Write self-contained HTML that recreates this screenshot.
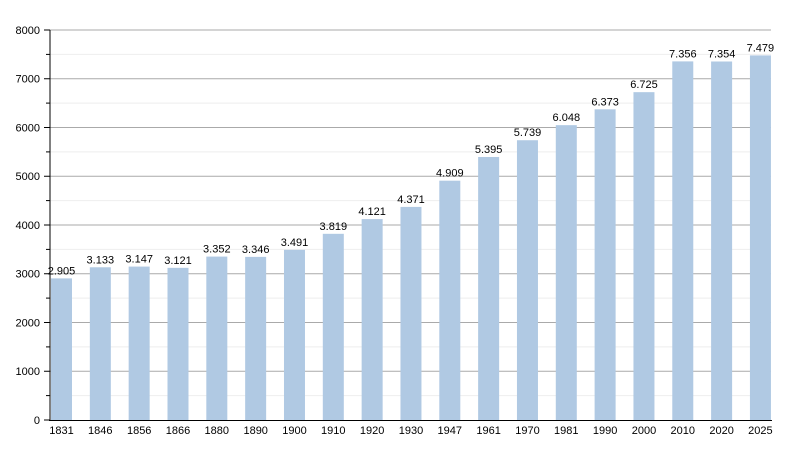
<!DOCTYPE html><html><head><style>body{margin:0;background:#fff}svg text{font-family:"Liberation Sans",sans-serif;font-size:11px;fill:#000}</style></head><body>
<svg width="800" height="450" xmlns="http://www.w3.org/2000/svg">
<g stroke="#eee">
<line x1="50" x2="771" y1="395.6" y2="395.6"/><line x1="50" x2="771" y1="346.9" y2="346.9"/><line x1="50" x2="771" y1="298.1" y2="298.1"/><line x1="50" x2="771" y1="249.4" y2="249.4"/><line x1="50" x2="771" y1="200.6" y2="200.6"/><line x1="50" x2="771" y1="151.9" y2="151.9"/><line x1="50" x2="771" y1="103.1" y2="103.1"/><line x1="50" x2="771" y1="54.4" y2="54.4"/>
</g>
<g stroke="#aaa">
<line x1="50" x2="771" y1="371.25" y2="371.25"/><line x1="50" x2="771" y1="322.5" y2="322.5"/><line x1="50" x2="771" y1="273.75" y2="273.75"/><line x1="50" x2="771" y1="225" y2="225"/><line x1="50" x2="771" y1="176.25" y2="176.25"/><line x1="50" x2="771" y1="127.5" y2="127.5"/><line x1="50" x2="771" y1="78.75" y2="78.75"/><line x1="50" x2="771" y1="30" y2="30"/>
</g>
<g stroke="#000">
<line x1="46" x2="50" y1="395.6" y2="395.6"/><line x1="46" x2="50" y1="346.9" y2="346.9"/><line x1="46" x2="50" y1="298.1" y2="298.1"/><line x1="46" x2="50" y1="249.4" y2="249.4"/><line x1="46" x2="50" y1="200.6" y2="200.6"/><line x1="46" x2="50" y1="151.9" y2="151.9"/><line x1="46" x2="50" y1="103.1" y2="103.1"/><line x1="46" x2="50" y1="54.4" y2="54.4"/>
<line x1="44" x2="50" y1="420" y2="420"/><line x1="44" x2="50" y1="371.25" y2="371.25"/><line x1="44" x2="50" y1="322.5" y2="322.5"/><line x1="44" x2="50" y1="273.75" y2="273.75"/><line x1="44" x2="50" y1="225" y2="225"/><line x1="44" x2="50" y1="176.25" y2="176.25"/><line x1="44" x2="50" y1="127.5" y2="127.5"/><line x1="44" x2="50" y1="78.75" y2="78.75"/><line x1="44" x2="50" y1="30" y2="30"/>
</g>
<g text-anchor="end">
<text x="40" y="424">0</text><text x="40" y="375">1000</text><text x="40" y="326.5">2000</text><text x="40" y="277.7">3000</text><text x="40" y="229">4000</text><text x="40" y="180.2">5000</text><text x="40" y="131.5">6000</text><text x="40" y="82.7">7000</text><text x="40" y="34">8000</text>
</g>
<g fill="#b0c9e3">
<rect x="51" y="278.38" width="21" height="141.62"/>
<rect x="89.83" y="267.27" width="21" height="152.73"/>
<rect x="128.66" y="266.58" width="21" height="153.42"/>
<rect x="167.49" y="267.85" width="21" height="152.15"/>
<rect x="206.32" y="256.59" width="21" height="163.41"/>
<rect x="245.15" y="256.88" width="21" height="163.12"/>
<rect x="283.98" y="249.81" width="21" height="170.19"/>
<rect x="322.81" y="233.82" width="21" height="186.18"/>
<rect x="361.64" y="219.1" width="21" height="200.9"/>
<rect x="400.47" y="206.91" width="21" height="213.09"/>
<rect x="439.3" y="180.69" width="21" height="239.31"/>
<rect x="478.13" y="156.99" width="21" height="263.01"/>
<rect x="516.96" y="140.22" width="21" height="279.78"/>
<rect x="555.79" y="125.16" width="21" height="294.84"/>
<rect x="594.62" y="109.32" width="21" height="310.68"/>
<rect x="633.45" y="92.16" width="21" height="327.84"/>
<rect x="672.28" y="61.39" width="21" height="358.61"/>
<rect x="711.11" y="61.49" width="21" height="358.51"/>
<rect x="749.94" y="55.4" width="21" height="364.6"/>
</g>
<g text-anchor="middle">
<text x="61.5" y="274.4">2.905</text><text x="100.3" y="263.3">3.133</text><text x="139.2" y="262.6">3.147</text><text x="178" y="263.9">3.121</text><text x="216.8" y="252.6">3.352</text><text x="255.7" y="252.9">3.346</text><text x="294.5" y="245.8">3.491</text><text x="333.3" y="229.8">3.819</text><text x="372.1" y="215.1">4.121</text><text x="411" y="202.9">4.371</text><text x="449.8" y="176.7">4.909</text><text x="488.6" y="153">5.395</text><text x="527.5" y="136.2">5.739</text><text x="566.3" y="121.2">6.048</text><text x="605.1" y="105.3">6.373</text><text x="644" y="88.2">6.725</text><text x="682.8" y="57.4">7.356</text><text x="721.6" y="57.5">7.354</text><text x="760.4" y="51.4">7.479</text>
<text x="61.5" y="434">1831</text><text x="100.3" y="434">1846</text><text x="139.2" y="434">1856</text><text x="178" y="434">1866</text><text x="216.8" y="434">1880</text><text x="255.7" y="434">1890</text><text x="294.5" y="434">1900</text><text x="333.3" y="434">1910</text><text x="372.1" y="434">1920</text><text x="411" y="434">1930</text><text x="449.8" y="434">1947</text><text x="488.6" y="434">1961</text><text x="527.5" y="434">1970</text><text x="566.3" y="434">1981</text><text x="605.1" y="434">1990</text><text x="644" y="434">2000</text><text x="682.8" y="434">2010</text><text x="721.6" y="434">2020</text><text x="760.4" y="434">2025</text>
</g>
<line x1="50" x2="50" y1="30" y2="421" stroke="#000"/>
<line x1="49" x2="772" y1="420.5" y2="420.5" stroke="#000"/>
</svg></body></html>
